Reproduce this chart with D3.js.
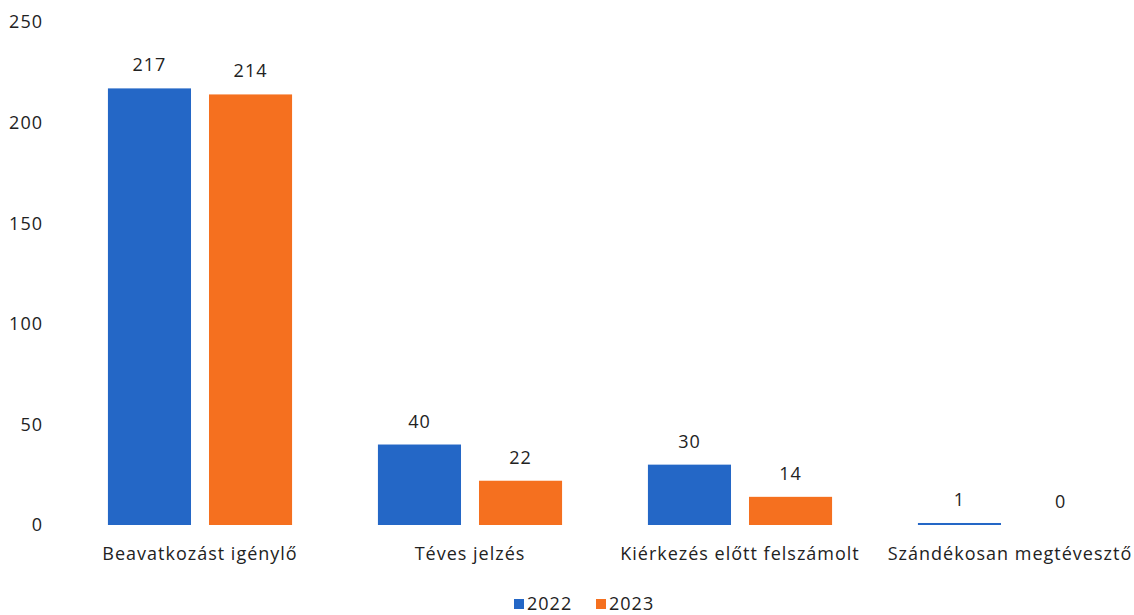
<!DOCTYPE html>
<html>
<head>
<meta charset="utf-8">
<script src="https://cdn.jsdelivr.net/npm/d3@7"></script>
<style>
  body { margin: 0; background: #fff; }
  text { font-family: "Open Sans", "Noto Sans", sans-serif; fill: #222; letter-spacing: 1px; }
</style>
</head>
<body>
<svg class="chart" width="1134" height="615"></svg>
<script>
const categories = ["Beavatkozást igénylő", "Téves jelzés", "Kiérkezés előtt felszámolt", "Szándékosan megtévesztő"];
const years = ["2022", "2023"];
const values2022 = [217, 40, 30, 1];
const values2023 = [214, 22, 14, 0];
const yTicks = [0, 50, 100, 150, 200, 250];

const colors = d3.scaleOrdinal().domain(years).range(["#2467c6", "#f5701f"]);

let svg = d3.select(".chart");

let y = d3.scaleLinear().domain([0, 250]).range([525, 22]);
let x0 = d3.scaleBand().domain(categories).range([65, 1145]).paddingInner(0.318).paddingOuter(0.159);
let x1 = d3.scaleBand().domain(years).range([0, x0.bandwidth()]).paddingInner(0.178);

let rows = categories.map((c, i) => ({cat: c, vals: [values2022[i], values2023[i]]}));

// y axis labels (no line)
svg.append("g")
    .selectAll("text")
    .data(yTicks)
    .join("text")
    .attr("x", 43)
    .attr("y", d => y(d))
    .attr("dy", "0.35em")
    .attr("text-anchor", "end")
    .attr("font-size", "18px")
    .text(d => d);

let groups = svg.append("g")
    .selectAll("g")
    .data(rows)
    .join("g")
    .attr("transform", d => `translate(${x0(d.cat)},0)`);

groups.selectAll("rect")
    .data(d => d.vals.map((v, i) => ({year: years[i], v: v})))
    .join("rect")
    .attr("x", d => x1(d.year))
    .attr("width", x1.bandwidth())
    .attr("y", d => y(d.v))
    .attr("height", d => y(0) - y(d.v))
    .attr("fill", d => colors(d.year));

groups.selectAll(".val")
    .data(d => d.vals.map((v, i) => ({year: years[i], v: v})))
    .join("text")
    .attr("class", "val")
    .attr("x", d => x1(d.year) + x1.bandwidth() / 2)
    .attr("y", d => y(d.v) - 17)
    .attr("text-anchor", "middle")
    .attr("font-size", "18px")
    .text(d => d.v);

// category labels
svg.append("g")
    .selectAll("text")
    .data(categories)
    .join("text")
    .attr("x", d => x0(d) + x0.bandwidth() / 2)
    .attr("y", 560)
    .attr("text-anchor", "middle")
    .attr("font-size", "18px")
    .text(d => d);

// legend
let legend = svg.append("g").attr("transform", "translate(514,596)");
let lx = [0, 82];
legend.selectAll("rect")
    .data(years)
    .join("rect")
    .attr("x", (d, i) => lx[i])
    .attr("y", 3)
    .attr("width", 10)
    .attr("height", 10)
    .attr("fill", d => colors(d));
legend.selectAll("text")
    .data(years)
    .join("text")
    .attr("x", (d, i) => lx[i] + 13)
    .attr("y", 8)
    .attr("dy", "0.35em")
    .attr("font-size", "18px")
    .text(d => d);
</script>
</body>
</html>
